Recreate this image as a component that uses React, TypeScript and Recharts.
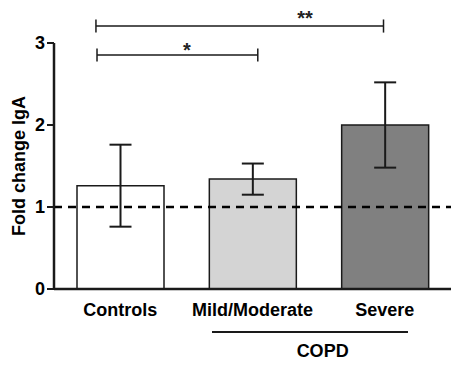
import React from "react";
import {
  BarChart,
  Bar,
  Cell,
  XAxis,
  YAxis,
  ErrorBar,
  ReferenceLine,
  ReferenceDot,
} from "recharts";

const categories = ["Controls", "Mild/Moderate", "Severe"];
const means = [1.26, 1.34, 2.0];
const errors = [0.5, 0.19, 0.52];
const fills = ["#ffffff", "#d4d4d4", "#808080"];
const yTicks = [0, 1, 2, 3];

// significance brackets, in data units (x on a 0..3 position axis)
const brackets = [
  { from: 0.317, to: 2.49, y: 3.207, star: "**", starX: 1.897, starY: 3.31 },
  { from: 0.325, to: 1.54, y: 2.854, star: "*", starX: 1.005, starY: 2.92 },
];
const copd = { from: 1.194, to: 2.675, y: -0.524, labelX: 2.03, labelY: -0.756 };
const capHalf = 0.08;

const FONT = "'Liberation Sans', Arial, Helvetica, sans-serif";
const INK = "#1a1a1a";
const POS = 1;

const chartData = categories.map((name, i) => ({
  name,
  value: means[i],
  err: errors[i],
}));

const YLabel = (props: any) => {
  const vb = props.viewBox || {};
  const cx = (vb.x ?? 0) + 19;
  const cy = (vb.y ?? 0) + (vb.height ?? 0) / 2;
  return (
    <text
      x={cx}
      y={cy}
      transform={`rotate(-90, ${cx}, ${cy})`}
      textAnchor="middle"
      dominantBaseline="central"
      fontFamily={FONT}
      fontWeight="bold"
      fontSize={18}
      fill="#000"
    >
      Fold change IgA
    </text>
  );
};

export default function App() {
  return (
    <div style={{ position: "absolute", left: 0, top: 0, background: "#fff" }}>
      <BarChart
        width={451}
        height={365}
        data={chartData}
        margin={{ top: 43, right: 0, bottom: 46, left: 0 }}
        barSize={87}
      >
        <XAxis
          xAxisId={0}
          dataKey="name"
          height={30}
          axisLine={{ stroke: INK, strokeWidth: 2.5 }}
          tickLine={false}
          tickSize={6}
          tickMargin={8}
          tick={{ fill: "#000", fontSize: 18, fontWeight: "bold", fontFamily: FONT }}
          interval={0}
        />
        {/* hidden linear axis spanning the plot, used to place brackets */}
        <XAxis
          xAxisId={POS}
          dataKey="value"
          type="number"
          domain={[0, 3]}
          allowDataOverflow
          hide
        />
        <YAxis
          width={54}
          domain={[0, 3]}
          ticks={yTicks}
          interval={0}
          axisLine={{ stroke: INK, strokeWidth: 2.5 }}
          tickLine={{ stroke: INK, strokeWidth: 2 }}
          tickSize={7}
          tickMargin={2}
          tick={{ fill: "#000", fontSize: 18, fontWeight: "bold", fontFamily: FONT }}
          label={<YLabel />}
        />
        <Bar xAxisId={0} dataKey="value" stroke={INK} strokeWidth={1.5} isAnimationActive={false}>
          {chartData.map((d, i) => (
            <Cell key={d.name} fill={fills[i]} />
          ))}
          <ErrorBar dataKey="err" width={11} stroke={INK} strokeWidth={2} direction="y" />
        </Bar>
        <ReferenceLine xAxisId={0} y={1} stroke="#000" strokeWidth={2.5} strokeDasharray="8 6" />
        {brackets.map((b) => (
          <React.Fragment key={b.star}>
            <ReferenceLine
              xAxisId={POS}
              ifOverflow="visible"
              stroke={INK}
              strokeWidth={1.5}
              segment={[
                { x: b.from, y: b.y },
                { x: b.to, y: b.y },
              ]}
            />
            <ReferenceLine
              xAxisId={POS}
              ifOverflow="visible"
              stroke={INK}
              strokeWidth={1.5}
              segment={[
                { x: b.from, y: b.y - capHalf },
                { x: b.from, y: b.y + capHalf },
              ]}
            />
            <ReferenceLine
              xAxisId={POS}
              ifOverflow="visible"
              stroke={INK}
              strokeWidth={1.5}
              segment={[
                { x: b.to, y: b.y - capHalf },
                { x: b.to, y: b.y + capHalf },
              ]}
            />
            <ReferenceDot
              xAxisId={POS}
              x={b.starX}
              y={b.starY}
              r={0}
              fill="none"
              stroke="none"
              ifOverflow="visible"
              label={{
                value: b.star,
                position: "center",
                fill: "#222",
                fontSize: 20,
                fontWeight: "bold",
                fontFamily: FONT,
              }}
            />
          </React.Fragment>
        ))}
        <ReferenceLine
          xAxisId={POS}
          ifOverflow="visible"
          stroke={INK}
          strokeWidth={2}
          segment={[
            { x: copd.from, y: copd.y },
            { x: copd.to, y: copd.y },
          ]}
        />
        <ReferenceDot
          xAxisId={POS}
          x={copd.labelX}
          y={copd.labelY}
          r={0}
          fill="none"
          stroke="none"
          ifOverflow="visible"
          label={{
            value: "COPD",
            position: "center",
            fill: "#000",
            fontSize: 18,
            fontWeight: "bold",
            fontFamily: FONT,
          }}
        />
      </BarChart>
    </div>
  );
}
